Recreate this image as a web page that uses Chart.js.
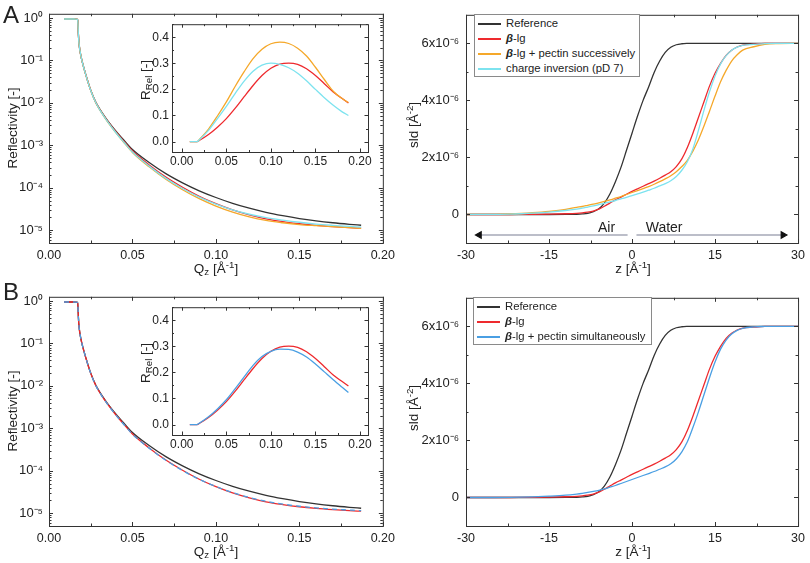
<!DOCTYPE html>
<html>
  <head>
    <meta charset="UTF-8" />
    <title>Reflectivity and sld profiles</title>
    <script src="https://cdn.jsdelivr.net/npm/chart.js"></script>
    <style>
      body { margin: 0; background: #ffffff; }
      #fig { position: relative; width: 810px; height: 563px; overflow: hidden;
             font-family: 'Liberation Sans', Arial, sans-serif; color: #222; }
      .box { position: absolute; }
      .t { position: absolute; font-size: 13.5px; white-space: nowrap; transform: translate(-50%, -50%); }
      .v { transform: translate(-50%, -50%) rotate(-90deg); }
      .t sup, .t sub { font-size: 0.72em; line-height: 0; }
      .t sup { vertical-align: 0.5em; }
      .t sub { vertical-align: -0.25em; }
      .letter { position: absolute; font-size: 24px; line-height: 25px; }
      .leg { position: absolute; border: 1px solid #8a8a8a; background: #fff; font-size: 11.3px; padding: 1px 3px 0 3px; box-sizing: border-box; }
      .leg div { position: relative; height: 15px; line-height: 15px; white-space: nowrap; padding-left: 28px; }
      .leg span { position: absolute; left: 0; top: 7px; width: 23px; height: 2px; }
      .leg b { font-style: italic; }
    </style>
  </head>
  <body>
    <div id="fig">
      <div class="box" style="left:0;top:0;width:400px;height:280px"><canvas id="aRefl"></canvas></div>
      <div class="box" style="left:400px;top:0;width:410px;height:280px"><canvas id="aSld"></canvas></div>
      <div class="box" style="left:0;top:283px;width:400px;height:280px"><canvas id="bRefl"></canvas></div>
      <div class="box" style="left:400px;top:283px;width:410px;height:280px"><canvas id="bSld"></canvas></div>
      <div class="box" style="left:140px;top:14px;width:236px;height:160px"><canvas id="aRel"></canvas></div>
      <div class="box" style="left:140px;top:297px;width:236px;height:160px"><canvas id="bRel"></canvas></div>

      <div class="letter" style="left:3px;top:2px">A</div>
      <div class="letter" style="left:3px;top:279px">B</div>

      <div class="t v" style="left:12px;top:128px">Reflectivity [-]</div>
      <div class="t" style="left:216px;top:268px">Q<sub>z</sub> [Å<sup>-1</sup>]</div>
      <div class="t v" style="left:145px;top:80px">R<sub>Rel</sub> [-]</div>
      <div class="t v" style="left:413px;top:125px">sld [Å<sup>-2</sup>]</div>
      <div class="t" style="left:633px;top:268px">z [Å<sup>-1</sup>]</div>

      <div class="t v" style="left:12px;top:411px">Reflectivity [-]</div>
      <div class="t" style="left:216px;top:551px">Q<sub>z</sub> [Å<sup>-1</sup>]</div>
      <div class="t v" style="left:145px;top:363px">R<sub>Rel</sub> [-]</div>
      <div class="t v" style="left:413px;top:408px">sld [Å<sup>-2</sup>]</div>
      <div class="t" style="left:633px;top:551px">z [Å<sup>-1</sup>]</div>

      <div class="leg" style="left:474px;top:14px;width:166px;height:63px">
        <div><span style="background:#333333"></span>Reference</div>
        <div><span style="background:#ee2a2e"></span><b>β</b>-lg</div>
        <div><span style="background:#f5a82a"></span><b>β</b>-lg + pectin successively</div>
        <div><span style="background:#7de3ef"></span>charge inversion (pD 7)</div>
      </div>
      <div class="leg" style="left:473px;top:297px;width:179px;height:48px">
        <div><span style="background:#333333"></span>Reference</div>
        <div><span style="background:#ee2a2e"></span><b>β</b>-lg</div>
        <div><span style="background:#4a9fe3"></span><b>β</b>-lg + pectin simultaneously</div>
      </div>
    </div>

    <script>
      // reflectivity curves, Qz in 1/Å
      const qMain = [0.009, 0.012, 0.015, 0.0165, 0.0172, 0.0176, 0.018, 0.019, 0.020, 0.022, 0.025, 0.028, 0.031,
        0.035, 0.040, 0.045, 0.050, 0.060, 0.070, 0.080, 0.090, 0.100, 0.110, 0.120, 0.130, 0.140, 0.150,
        0.160, 0.170, 0.180, 0.187];
      const reflRef = [0.95, 0.95, 0.95, 0.94, 0.9, 0.42, 0.25, 0.135, 0.09, 0.047, 0.02, 0.0105, 0.0066,
        0.0039, 0.0022, 0.00131, 0.0008, 0.000395, 0.000216, 0.000131, 8.5e-5, 5.9e-5, 4.3e-5, 3.3e-5, 2.64e-5,
        2.2e-5, 1.88e-5, 1.66e-5, 1.5e-5, 1.38e-5, 1.31e-5];
      const reflLg = [0.95, 0.95, 0.95, 0.94, 0.9, 0.42, 0.25, 0.135, 0.0898, 0.0468, 0.0198, 0.0103, 0.0064,
        0.00376, 0.00209, 0.001224, 0.000734, 0.000346, 0.000179, 0.000103, 6.33e-5, 4.23e-5, 3.02e-5, 2.31e-5,
        1.86e-5, 1.6e-5, 1.42e-5, 1.3e-5, 1.215e-5, 1.15e-5, 1.116e-5];
      const reflSucc = [0.95, 0.95, 0.95, 0.94, 0.9, 0.42, 0.25, 0.135, 0.0893, 0.0464, 0.0196, 0.0101, 0.0063,
        0.00363, 0.00199, 0.00115, 0.00068, 0.000312, 0.000159, 8.97e-5, 5.53e-5, 3.7e-5, 2.67e-5, 2.06e-5,
        1.7e-5, 1.5e-5, 1.36e-5, 1.28e-5, 1.215e-5, 1.155e-5, 1.11e-5];
      const reflInv = [0.95, 0.95, 0.95, 0.94, 0.9, 0.42, 0.25, 0.135, 0.0895, 0.0465, 0.0196, 0.0102, 0.0063,
        0.00366, 0.00201, 0.00117, 0.000696, 0.000324, 0.000167, 9.63e-5, 6.04e-5, 4.13e-5, 3.02e-5, 2.38e-5,
        1.98e-5, 1.73e-5, 1.54e-5, 1.4e-5, 1.305e-5, 1.23e-5, 1.18e-5];
      const reflSim = [0.95, 0.95, 0.95, 0.94, 0.9, 0.42, 0.25, 0.135, 0.0897, 0.0468, 0.0198, 0.0103, 0.0064,
        0.00374, 0.00208, 0.001216, 0.000728, 0.000342, 0.000177, 0.0001015, 6.29e-5, 4.25e-5, 3.06e-5, 2.35e-5,
        1.91e-5, 1.64e-5, 1.46e-5, 1.34e-5, 1.25e-5, 1.19e-5, 1.15e-5];

      // relative reflectivity (insets)
      const qRel = [0.009, 0.0172, 0.02, 0.03, 0.04, 0.05, 0.06, 0.07, 0.08, 0.09, 0.10, 0.11, 0.12, 0.13,
        0.14, 0.15, 0.16, 0.17, 0.18, 0.187];
      const relLg = [0, 0, 0.005, 0.027, 0.055, 0.088, 0.128, 0.172, 0.215, 0.253, 0.281, 0.297, 0.301, 0.296,
        0.279, 0.253, 0.222, 0.19, 0.165, 0.148];
      const relSucc = [0, 0, 0.009, 0.048, 0.098, 0.152, 0.212, 0.268, 0.318, 0.354, 0.375, 0.381, 0.376, 0.358,
        0.328, 0.285, 0.238, 0.193, 0.165, 0.15];
      const relInv = [0, 0, 0.008, 0.043, 0.088, 0.135, 0.185, 0.232, 0.27, 0.293, 0.301, 0.296, 0.283, 0.262,
        0.233, 0.2, 0.168, 0.139, 0.114, 0.10];
      const relSim = [0, 0, 0.006, 0.03, 0.06, 0.095, 0.138, 0.183, 0.227, 0.261, 0.281, 0.289, 0.288, 0.278,
        0.259, 0.232, 0.202, 0.172, 0.143, 0.123];

      // sld profiles, z in Å, sld in 1e-6 Å^-2
      const zSld = [-30, -25, -22, -20, -18, -15, -12, -10, -9, -8, -7, -6, -5, -4, -3, -2, -1, 0, 1, 2, 3, 4,
        5, 6, 7, 8, 9, 10, 11, 12, 13, 14, 15, 16, 17, 18, 19, 20, 22, 24, 26, 30];
      const sldRef = [0, 0, 0, 0, 0, 0, 0.002, 0.008, 0.018, 0.04, 0.1, 0.2, 0.4, 0.72, 1.15, 1.65, 2.25, 2.85,
        3.45, 4.0, 4.47, 4.98, 5.38, 5.68, 5.86, 5.95, 5.985, 5.997, 6, 6, 6, 6, 6, 6, 6, 6, 6, 6, 6, 6, 6, 6];
      const sldLg = [0, 0, 0, 0.002, 0.005, 0.012, 0.025, 0.04, 0.055, 0.08, 0.12, 0.19, 0.29, 0.4, 0.51, 0.61,
        0.71, 0.81, 0.9, 0.99, 1.08, 1.17, 1.27, 1.38, 1.5, 1.68, 1.95, 2.35, 2.85, 3.4, 3.95, 4.5, 4.95, 5.3,
        5.58, 5.76, 5.87, 5.94, 5.97, 5.995, 6, 6];
      const sldSucc = [0, 0.005, 0.018, 0.035, 0.06, 0.11, 0.18, 0.25, 0.28, 0.32, 0.36, 0.41, 0.46, 0.51, 0.57,
        0.63, 0.7, 0.77, 0.84, 0.91, 0.98, 1.06, 1.15, 1.25, 1.36, 1.5, 1.68, 1.9, 2.22, 2.62, 3.1, 3.62, 4.15,
        4.65, 5.05, 5.38, 5.6, 5.76, 5.88, 5.96, 5.99, 6];
      const sldInv = [0, 0.004, 0.012, 0.025, 0.045, 0.085, 0.14, 0.19, 0.22, 0.26, 0.3, 0.345, 0.39, 0.44, 0.49,
        0.545, 0.6, 0.66, 0.72, 0.78, 0.85, 0.92, 1.0, 1.08, 1.18, 1.33, 1.55, 1.85, 2.3, 2.95, 3.65, 4.3, 4.85,
        5.28, 5.57, 5.76, 5.87, 5.93, 5.96, 5.99, 6, 6];
      const sldSim = [0, 0, 0.004, 0.01, 0.02, 0.045, 0.08, 0.12, 0.145, 0.175, 0.21, 0.25, 0.3, 0.36, 0.42, 0.49,
        0.56, 0.63, 0.7, 0.77, 0.84, 0.91, 0.99, 1.07, 1.18, 1.35, 1.6, 1.95, 2.45, 3.0, 3.6, 4.2, 4.75, 5.2,
        5.52, 5.73, 5.86, 5.93, 5.98, 5.995, 6, 6];

      // air / water annotation
      const arrowAirZ = [-27.6, -0.8];
      const arrowWaterZ = [0.8, 27.3];
      const arrowSld = [-0.72, -0.72];
      const phaseNames = ['Air', 'Water'];
      const phaseZ = [-4.6, 5.8];
      const phaseSld = -0.47;

      // tick values
      const reflTicks = [1e-5, 1e-4, 1e-3, 1e-2, 1e-1, 1];
      const qTicks = [0, 0.05, 0.1, 0.15, 0.2];
      const relTicks = [0, 0.1, 0.2, 0.3, 0.4];
      const zTicks = [-30, -15, 0, 15, 30];
      const sldTicks = [0, 2, 4, 6];

      const FONT = "'Liberation Sans', Arial, sans-serif";
      Chart.defaults.font.family = FONT;
      Chart.defaults.font.size = 12.5;
      Chart.defaults.color = '#222';

      const C = { ref: '#333333', lg: '#ee2a2e', succ: '#f5a82a', inv: '#7de3ef', sim: '#4a9fe3' };

      const SUP = { '0': '⁰', '1': '¹', '2': '²', '3': '³', '4': '⁴', '5': '⁵', '6': '⁶', '7': '⁷', '8': '⁸', '9': '⁹', '-': '⁻' };
      function sup(n) { return String(n).split('').map(c => SUP[c]).join(''); }

      function pts(xs, ys) { return xs.map((x, i) => ({ x: x, y: ys[i] })); }

      function curve(xs, ys, color, extra) {
        return Object.assign({
          data: pts(xs, ys), borderColor: color, borderWidth: 1.3, pointRadius: 0,
          cubicInterpolationMode: 'monotone', fill: false
        }, extra || {});
      }

      function axis(o) {
        return {
          type: o.type || 'linear', min: o.min, max: o.max,
          grid: { display: false, drawTicks: false }, border: { display: false },
          afterBuildTicks: s => { s.ticks = o.ticks.map(v => ({ value: v })); },
          afterFit: s => { if (s.isHorizontal()) s.height = o.size; else s.width = o.size; },
          ticks: { padding: o.pad, autoSkip: false, maxRotation: 0, callback: o.fmt, font: { size: o.fs || 12.5 } },
          tickLen: o.tickLen || [4, 2.5]
        };
      }

      function marks(scale) {
        const majors = scale.ticks.map(t => t.value);
        const minors = [];
        if (scale.type === 'logarithmic') {
          for (let e = Math.floor(Math.log10(scale.min)); e <= Math.ceil(Math.log10(scale.max)); e++) {
            for (let k = 2; k <= 9; k++) {
              const v = k * Math.pow(10, e);
              if (v > scale.min && v < scale.max) minors.push(v);
            }
          }
        } else {
          const step = majors[1] - majors[0];
          for (let v = majors[0] - step / 2; v < scale.max; v += step) if (v > scale.min) minors.push(v);
        }
        const len = scale.options.tickLen;
        return majors.map(v => ({ v: v, len: len[0] })).concat(minors.map(v => ({ v: v, len: len[1] })));
      }

      // Origin style frame with inward ticks on all four sides
      const frameTicks = {
        id: 'frameTicks',
        afterDatasetsDraw(chart) {
          const a = chart.chartArea, ctx = chart.ctx;
          const xs = chart.scales.x, ys = chart.scales.y;
          ctx.save();
          ctx.strokeStyle = '#333';
          ctx.lineWidth = 1;
          ctx.strokeRect(a.left + 0.5, a.top + 0.5, a.right - a.left, a.bottom - a.top);
          ctx.beginPath();
          marks(xs).forEach(m => {
            const p = Math.round(xs.getPixelForValue(m.v)) + 0.5;
            ctx.moveTo(p, a.bottom); ctx.lineTo(p, a.bottom - m.len);
            ctx.moveTo(p, a.top); ctx.lineTo(p, a.top + m.len);
          });
          marks(ys).forEach(m => {
            const p = Math.round(ys.getPixelForValue(m.v)) + 0.5;
            ctx.moveTo(a.left, p); ctx.lineTo(a.left + m.len, p);
            ctx.moveTo(a.right, p); ctx.lineTo(a.right - m.len, p);
          });
          ctx.stroke();
          ctx.restore();
        }
      };

      const phaseText = {
        id: 'phaseText',
        afterDatasetsDraw(chart) {
          const xs = chart.scales.x, ys = chart.scales.y, ctx = chart.ctx;
          ctx.save();
          ctx.font = '14px ' + FONT;
          ctx.fillStyle = '#222';
          ctx.textAlign = 'center';
          ctx.textBaseline = 'middle';
          phaseNames.forEach((t, i) => ctx.fillText(t, xs.getPixelForValue(phaseZ[i]), ys.getPixelForValue(phaseSld)));
          ctx.restore();
        }
      };

      function build(id, datasets, x, y, pad, extra) {
        return new Chart(document.getElementById(id), {
          type: 'line',
          data: { datasets: datasets },
          options: {
            responsive: true, maintainAspectRatio: false, animation: false,
            layout: { padding: pad },
            plugins: { legend: { display: false }, tooltip: { enabled: false } },
            scales: { x: axis(x), y: axis(y) }
          },
          plugins: [frameTicks].concat(extra || [])
        });
      }

      const qAxis = { min: 0, max: 0.2, ticks: qTicks, size: 37, pad: 5, fmt: v => v.toFixed(2) };
      const reflAxis = { type: 'logarithmic', min: 5.0e-6, max: 1.259, ticks: reflTicks, size: 49, pad: 6, fs: 13,
        fmt: v => '10' + sup(Math.round(Math.log10(v))) };
      const zAxis = { min: -30, max: 30, ticks: zTicks, size: 37, pad: 5, fmt: v => String(v) };
      const sldAxis = { min: -1, max: 7, ticks: sldTicks, size: 66, pad: 7, fs: 13,
        fmt: v => (v === 0 ? '0' : v + 'x10' + sup(-6)) };
      const qRelAxis = { min: -0.011, max: 0.209, ticks: qTicks, size: 22, pad: 2, fs: 12,
        fmt: v => v.toFixed(2), tickLen: [3.5, 2] };
      const relAxis = { min: -0.04, max: 0.45, ticks: relTicks, size: 32, pad: 3, fs: 12,
        fmt: v => v.toFixed(1), tickLen: [3.5, 2] };

      const mainPad = { top: 9, right: 17, left: 0, bottom: 0 };
      const sldPad = { top: 9, right: 10, left: 0, bottom: 0 };
      const relPad = { top: 6, right: 8, left: 0, bottom: 0 };

      const arrows = [
        curve(arrowAirZ, arrowSld, '#7a7f94', { borderWidth: 1.2, cubicInterpolationMode: 'default', pointRadius: [3.8, 0],
          pointStyle: 'triangle', pointRotation: -90, pointBackgroundColor: '#111', pointBorderColor: '#111' }),
        curve(arrowWaterZ, arrowSld, '#7a7f94', { borderWidth: 1.2, cubicInterpolationMode: 'default', pointRadius: [0, 3.8],
          pointStyle: 'triangle', pointRotation: 90, pointBackgroundColor: '#111', pointBorderColor: '#111' })
      ];

      // panel A
      build('aRefl', [
        curve(qMain, reflInv, C.inv),
        curve(qMain, reflSucc, C.succ),
        curve(qMain, reflLg, C.lg),
        curve(qMain, reflRef, C.ref)
      ], qAxis, reflAxis, mainPad);

      build('aRel', [
        curve(qRel, relInv, C.inv),
        curve(qRel, relSucc, C.succ),
        curve(qRel, relLg, C.lg)
      ], qRelAxis, relAxis, relPad);

      build('aSld', arrows.concat([
        curve(zSld, sldInv, C.inv),
        curve(zSld, sldSucc, C.succ),
        curve(zSld, sldLg, C.lg),
        curve(zSld, sldRef, C.ref)
      ]), zAxis, sldAxis, sldPad, [phaseText]);

      // panel B
      build('bRefl', [
        curve(qMain, reflSim, C.sim, { borderDash: [5, 4] }),
        curve(qMain, reflLg, C.lg),
        curve(qMain, reflRef, C.ref)
      ], qAxis, reflAxis, mainPad);

      build('bRel', [
        curve(qRel, relSim, C.sim),
        curve(qRel, relLg, C.lg)
      ], qRelAxis, relAxis, relPad);

      build('bSld', [
        curve(zSld, sldSim, C.sim),
        curve(zSld, sldLg, C.lg),
        curve(zSld, sldRef, C.ref)
      ], zAxis, sldAxis, sldPad);
    </script>
  </body>
</html>
